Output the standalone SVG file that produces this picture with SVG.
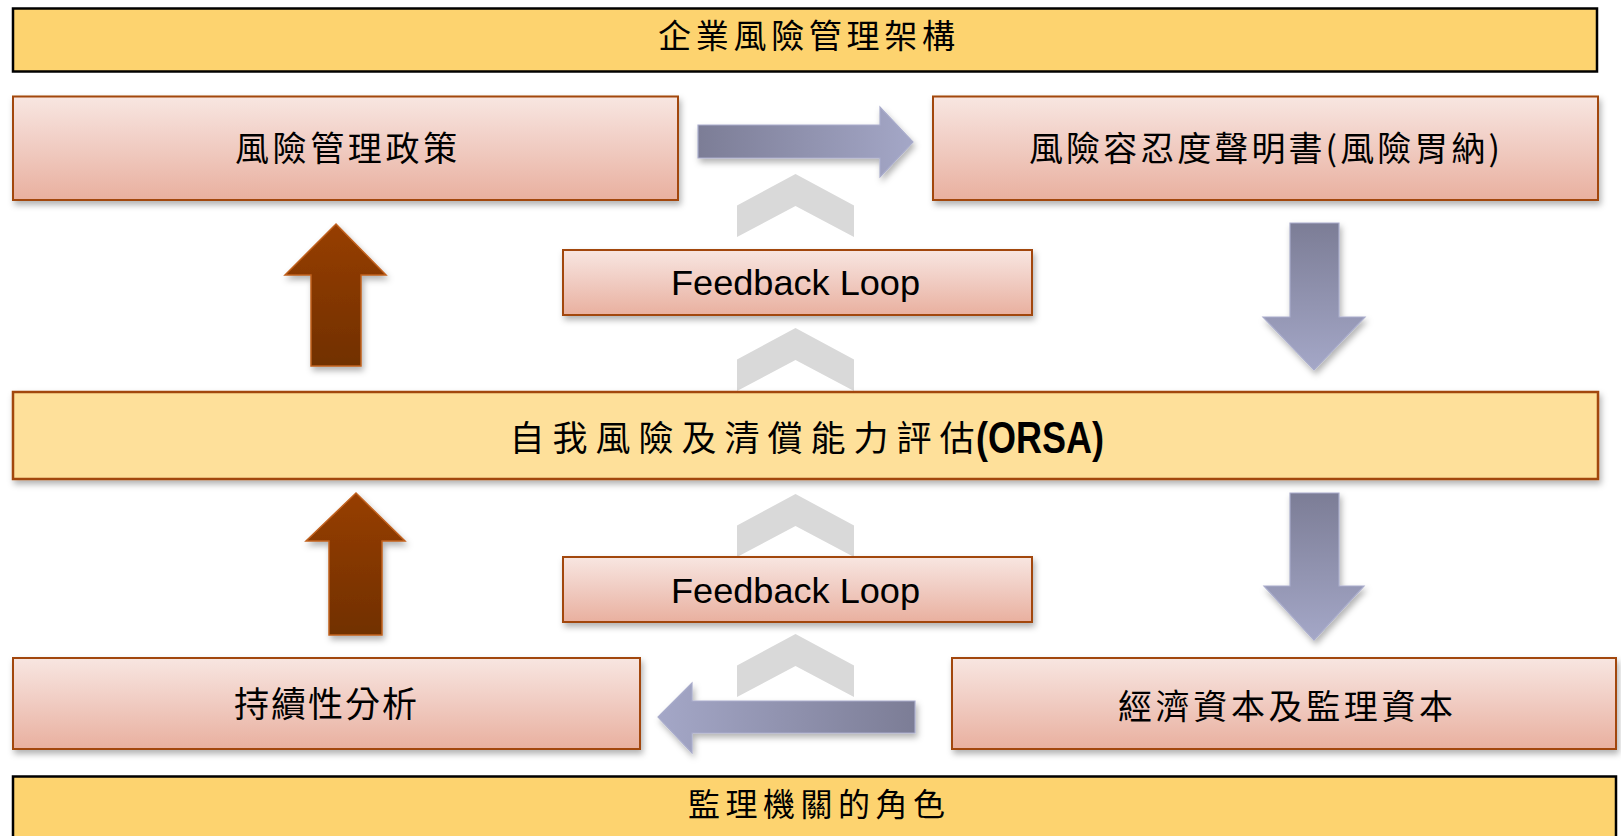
<svg xmlns="http://www.w3.org/2000/svg" width="1621" height="836" viewBox="0 0 1621 836">
<defs>
<linearGradient id="pink" x1="0" y1="0" x2="0" y2="1">
<stop offset="0" stop-color="#F8E6E1"/>
<stop offset="0.5" stop-color="#F0CBC1"/>
<stop offset="1" stop-color="#E9B09F"/>
</linearGradient>
<linearGradient id="brown" x1="0" y1="0" x2="0" y2="1">
<stop offset="0" stop-color="#973E00"/>
<stop offset="1" stop-color="#713000"/>
</linearGradient>
<linearGradient id="blueR" x1="0" y1="0" x2="1" y2="0">
<stop offset="0" stop-color="#7C7D96"/>
<stop offset="1" stop-color="#A4A7C7"/>
</linearGradient>
<linearGradient id="blueL" x1="1" y1="0" x2="0" y2="0">
<stop offset="0" stop-color="#7C7D96"/>
<stop offset="1" stop-color="#A4A7C7"/>
</linearGradient>
<linearGradient id="blueD" x1="0" y1="0" x2="0" y2="1">
<stop offset="0" stop-color="#7C7D96"/>
<stop offset="1" stop-color="#A4A7C7"/>
</linearGradient>
<filter id="sh" x="-10%" y="-20%" width="125%" height="150%">
<feDropShadow dx="2" dy="4" stdDeviation="3" flood-color="#000" flood-opacity="0.3"/>
</filter>
</defs>
<style>
.bar{fill:#FDD36F;stroke:#000;stroke-width:2.5}
.box{fill:url(#pink);stroke:#A2470B;stroke-width:2;filter:url(#sh)}
.orsa{fill:#FEE09A;stroke:#A2470B;stroke-width:2.5;filter:url(#sh)}
.cjk{font-family:"Noto Sans CJK TC","Noto Sans CJK SC",sans-serif;fill:#000}
.lat{font-family:"Liberation Sans",Arial,sans-serif;fill:#000}
.up{fill:url(#brown);stroke:#C0601E;stroke-width:1.5;filter:url(#sh)}
.bl{stroke:#A9ACCB;stroke-width:1.2;filter:url(#sh)}
.chev{fill:#D9D9D9}
</style>
<rect width="1621" height="836" fill="#FFFFFF"/>

<g id="connectors">
<polygon class="chev" points="795.5,174 854,205.5 854,237 795.5,206 737,237 737,205.5"/>
<polygon class="chev" points="795.5,328 854,359.5 854,391 795.5,360 737,391 737,359.5"/>
<polygon class="chev" points="795.5,494 854,525.5 854,557 795.5,526 737,557 737,525.5"/>
<polygon class="chev" points="795.5,634 854,665.5 854,697 795.5,666 737,697 737,665.5"/>
<polygon class="bl" fill="url(#blueR)" points="698,125 880,125 880,107 913,142 880,177 880,158 698,158"/>
<polygon class="bl" fill="url(#blueD)" points="1290,223 1339,223 1339,317 1365,317 1314,370 1263,317 1290,317"/>
<polygon class="bl" fill="url(#blueD)" points="1290,493 1339,493 1339,586 1364,586 1314,640 1264,586 1290,586"/>
<polygon class="bl" fill="url(#blueL)" points="915,701 915,733 692,733 692,753 658,717 692,683 692,701"/>
<polygon class="up" points="336,224 386,275 361,275 361,366 311,366 311,275 285,275"/>
<polygon class="up" points="356,493 405,541 382,541 382,635 329,635 329,541 306,541"/>
</g>

<g id="title-top">
<rect class="bar" x="13" y="8.5" width="1584" height="63"/>
<text class="cjk" x="658" y="47.5" font-size="33" textLength="297" lengthAdjust="spacing">企業風險管理架構</text>
</g>

<g id="node-policy">
<rect class="box" x="13" y="96.5" width="665" height="103.5"/>
<text class="cjk" x="235" y="160.5" font-size="34" textLength="222" lengthAdjust="spacing">風險管理政策</text>
</g>

<g id="node-appetite">
<rect class="box" x="933" y="96.5" width="665" height="103.5"/>
<text class="cjk" x="1029" y="160.5" font-size="34" textLength="471" lengthAdjust="spacing">風險容忍度聲明書(風險胃納)</text>
</g>

<g id="node-feedback1">
<rect class="box" x="563" y="250" width="469" height="65"/>
<text class="lat" x="671" y="295" font-size="35" textLength="249" lengthAdjust="spacingAndGlyphs">Feedback Loop</text>
</g>

<g id="node-orsa">
<rect class="orsa" x="13" y="392" width="1585" height="87"/>
<text class="cjk" x="509.5" y="451" font-size="35" textLength="465" lengthAdjust="spacing">自我風險及清償能力評估</text>
<text class="lat" x="976" y="452.5" font-size="45" font-weight="bold" textLength="128" lengthAdjust="spacingAndGlyphs">(ORSA)</text>
</g>

<g id="node-feedback2">
<rect class="box" x="563" y="557" width="469" height="65"/>
<text class="lat" x="671" y="603" font-size="35" textLength="249" lengthAdjust="spacingAndGlyphs">Feedback Loop</text>
</g>

<g id="node-sustain">
<rect class="box" x="13" y="658" width="627" height="91"/>
<text class="cjk" x="234" y="717" font-size="35" textLength="183" lengthAdjust="spacing">持續性分析</text>
</g>

<g id="node-capital">
<rect class="box" x="952" y="658" width="664" height="91"/>
<text class="cjk" x="1118" y="718.5" font-size="34" textLength="335" lengthAdjust="spacing">經濟資本及監理資本</text>
</g>

<g id="title-bottom">
<rect class="bar" x="13" y="776.5" width="1603" height="72"/>
<text class="cjk" x="688" y="816" font-size="32" textLength="257" lengthAdjust="spacing">監理機關的角色</text>
</g>
</svg>
